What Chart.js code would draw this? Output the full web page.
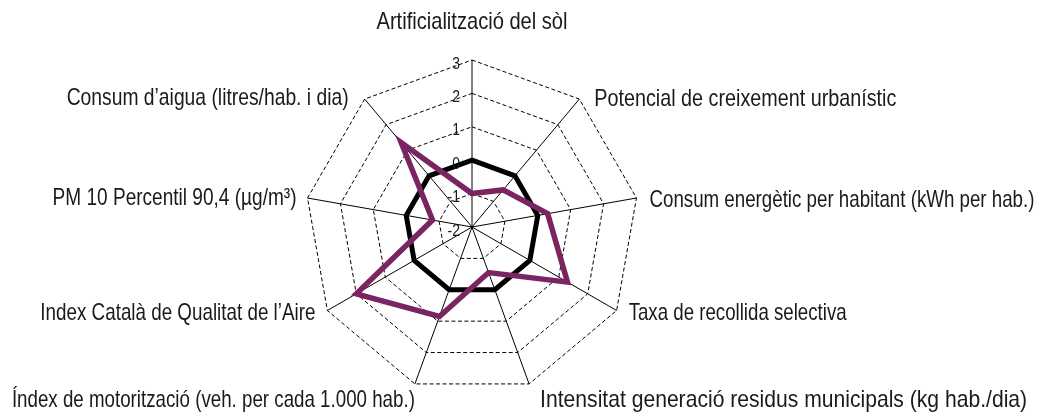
<!DOCTYPE html>
<html lang="ca">
<head>
  <meta charset="UTF-8">
  <title>Indicadors ambientals</title>
  <script src="https://cdn.jsdelivr.net/npm/chart.js"></script>
  <style>
    html, body {
      margin: 0;
      padding: 0;
      background: #fff;
    }
    #chart {
      display: block;
    }
  </style>
</head>
<body>

<canvas id="chart" width="1044" height="416"></canvas>

<script>
  // axis names, clockwise from the top
  const axisLabels = [
    'Artificialització del sòl',
    'Potencial de creixement urbanístic',
    'Consum energètic per habitant (kWh per hab.)',
    'Taxa de recollida selectiva',
    'Intensitat generació residus municipals (kg hab./dia)',
    'Índex de motorització (veh. per cada 1.000 hab.)',
    'Index Català de Qualitat de l\u2019Aire',
    'PM 10 Percentil 90,4 (µg/m³)',
    'Consum d\u2019aigua (litres/hab. i dia)'
  ];

  const municipiValues = [-1.0, -0.55, 0.3, 1.3, -0.55, 0.85, 2.0, -0.8, 1.3];
  const referenceValues = [0, 0, 0, 0, 0, 0, 0, 0, 0];

  const tickValues = [-2, -1, 0, 1, 2, 3];
  const tickLabels = ['-2', '-1', '0', '1', '2', '3'];

  const textColor = '#1a1a1a';
  // no narrow face installed, so the regular one is squeezed sideways
  const narrow = 0.82;
  const labelFont = '24px "Liberation Sans", Arial, sans-serif';
  const tickFont = '17px "Liberation Sans", Arial, sans-serif';

  // [align, dx, dy from spoke end to baseline, text width in px]
  const labelPlacement = [
    ['center', 0, -31, 191],
    ['left', 15, 7, 302],
    ['left', 13, 9, 385],
    ['left', 12, 9, 218],
    ['left', 11, 23, 487],
    ['right', 0, 23, 403],
    ['right', -12, 9, 275],
    ['right', -11, 7, 244],
    ['right', -16, 6, 282]
  ];

  function narrowText(ctx, text, x, y, align, sx) {
    ctx.save();
    ctx.translate(x, y);
    ctx.scale(sx, 1);
    ctx.textAlign = align;
    ctx.fillText(text, 0, 0);
    ctx.restore();
  }

  const labelsPlugin = {
    id: 'radarText',
    afterDraw(chart) {
      const scale = chart.scales.r;
      const ctx = chart.ctx;
      ctx.save();
      ctx.fillStyle = textColor;
      ctx.textBaseline = 'alphabetic';

      ctx.font = labelFont;
      axisLabels.forEach((label, i) => {
        const p = scale.getPointPosition(i, scale.drawingArea);
        const [align, dx, dy, w] = labelPlacement[i];
        const sx = w / ctx.measureText(label).width;
        narrowText(ctx, label, p.x + dx, p.y + dy, align, sx);
      });

      // tick numbers sit just left of the vertical spoke
      ctx.font = tickFont;
      ctx.textBaseline = 'middle';
      tickValues.forEach((v, i) => {
        const d = scale.getDistanceFromCenterForValue(v);
        narrowText(ctx, tickLabels[i], scale.xCenter - 12, scale.yCenter - d + 4, 'right', narrow);
      });
      ctx.restore();
    }
  };

  new Chart(document.getElementById('chart'), {
    type: 'radar',
    data: {
      labels: axisLabels,
      datasets: [
        {
          label: 'Municipi',
          data: municipiValues,
          borderColor: '#7b2462',
          borderWidth: 5.5,
          borderJoinStyle: 'miter',
          fill: false,
          pointRadius: 0,
          pointHoverRadius: 0
        },
        {
          label: 'Referència',
          data: referenceValues,
          borderColor: '#000000',
          borderWidth: 5,
          borderJoinStyle: 'miter',
          fill: false,
          pointRadius: 0,
          pointHoverRadius: 0
        }
      ]
    },
    options: {
      responsive: false,
      animation: false,
      layout: { padding: 0 },
      plugins: {
        legend: { display: false },
        tooltip: { enabled: false }
      },
      scales: {
        r: {
          min: tickValues[0],
          max: tickValues[tickValues.length - 1],
          ticks: { display: false, stepSize: 1 },
          pointLabels: { display: false },
          grid: { color: '#000', lineWidth: 1, borderDash: [4, 2.5] },
          border: { dash: [4, 2.5] },
          angleLines: { color: '#000', lineWidth: 1 },
          afterFit(scale) {
            scale.xCenter = 472;
            scale.yCenter = 227;
            scale.drawingArea = 167;
          }
        }
      }
    },
    plugins: [labelsPlugin]
  });
</script>

</body>
</html>
